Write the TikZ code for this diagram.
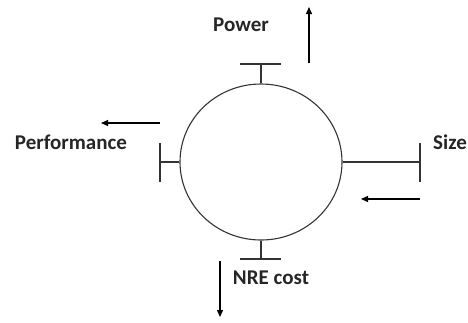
\documentclass[tikz,border=0pt]{standalone}
\usepackage{fontspec}
\setmainfont{Carlito}
\usetikzlibrary{arrows.meta,shapes.geometric}

\begin{document}
\begin{tikzpicture}[x=1pt,y=-1pt,
      bar/.style={line width=1.1pt,draw=black!80},
      push/.style={line width=1.3pt,-{Triangle[length=7pt,width=6pt]}},
      lbl/.style={font=\fontsize{21}{21}\selectfont\bfseries,text=black!85}]
      \useasboundingbox (0,0) rectangle (468,322);
      \node [ellipse,draw=black!80,line width=1.1pt,minimum width=162pt,minimum height=156pt,inner sep=0pt] (O) at (261,162) {};
      \coordinate (Nt) at (261,64);
      \coordinate (Nl) at (240,64);
      \coordinate (Nr) at (281,64);
      \coordinate (St) at (261,259);
      \coordinate (Sl) at (240,259);
      \coordinate (Sr) at (281,259);
      \coordinate (Wt) at (160,162);
      \coordinate (Wu) at (160,143);
      \coordinate (Wd) at (160,182);
      \coordinate (Et) at (420,162);
      \coordinate (Eu) at (420,143);
      \coordinate (Ed) at (420,182);
      \draw [bar] (O.north) to (Nt);
      \draw [bar] (Nl) to (Nr);
      \draw [bar] (O.south) to (St);
      \draw [bar] (Sl) to (Sr);
      \draw [bar] (O.west) to (Wt);
      \draw [bar] (Wu) to (Wd);
      \draw [bar] (O.east) to (Et);
      \draw [bar] (Eu) to (Ed);
      \coordinate (A1) at (309,63);
      \coordinate (A2) at (309,7);
      \coordinate (B1) at (160,123);
      \coordinate (B2) at (101,123);
      \coordinate (C1) at (420,199);
      \coordinate (C2) at (361,199);
      \coordinate (D1) at (220,261);
      \coordinate (D2) at (220,317);
      \draw [push] (A1) to (A2);
      \draw [push] (B1) to (B2);
      \draw [push] (C1) to (C2);
      \draw [push] (D1) to (D2);
      \node [lbl] (P) at (241,25) {Power};
      \node [lbl] (Pf) at (71,142) {Performance};
      \node [lbl] (S) at (450,142) {Size};
      \node [lbl] (N) at (271,278) {NRE cost};
    \end{tikzpicture}
\end{document}
